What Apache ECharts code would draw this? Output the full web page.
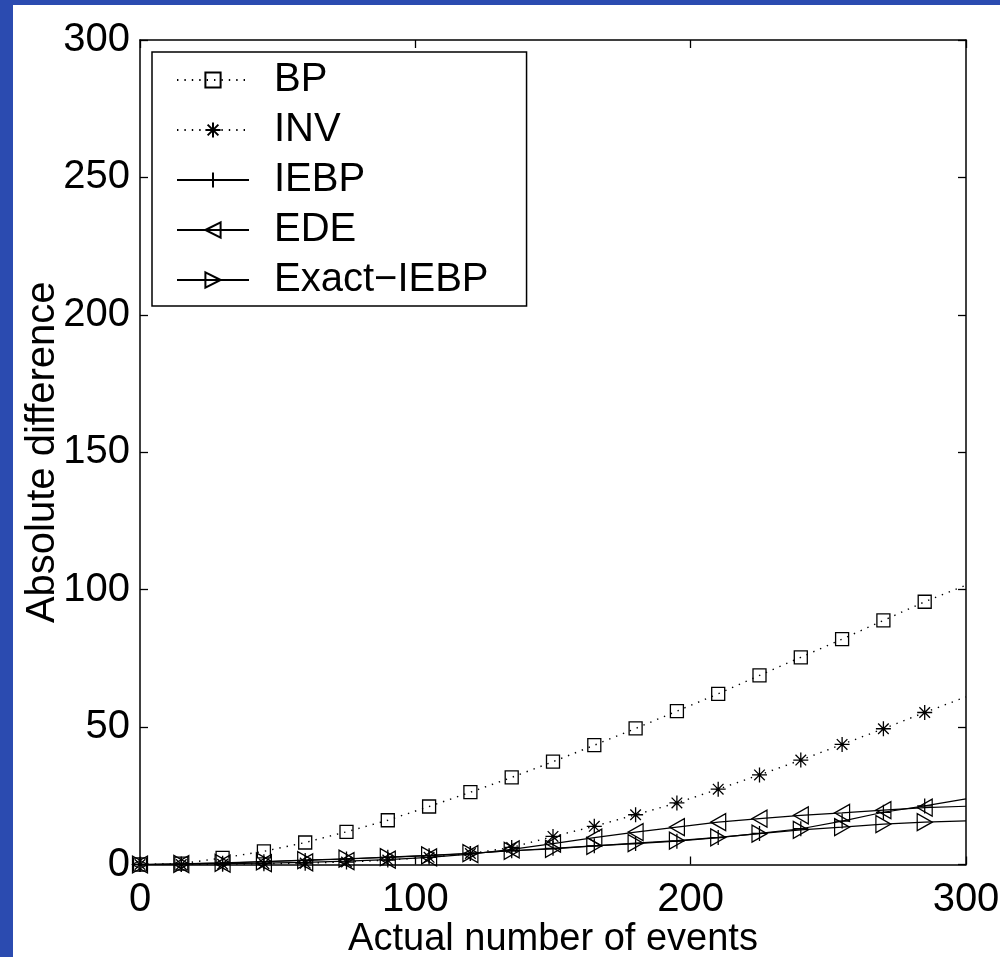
<!DOCTYPE html>
<html>
<head>
<meta charset="utf-8">
<script src="https://cdn.jsdelivr.net/npm/echarts@6/dist/echarts.min.js"></script>
<style>
  html, body { margin: 0; padding: 0; width: 1000px; height: 957px; background: #2b4bb0; overflow: hidden; }
  #chart { position: absolute; left: 13px; top: 5px; width: 987px; height: 952px; background: #ffffff; }
</style>
</head>
<body>
<div id="chart"></div>
<script>
// ---- data ----
const xValues = [0, 15, 30, 45, 60, 75, 90, 105, 120, 135, 150, 165, 180, 195, 210, 225, 240, 255, 270, 285, 300];
const bpValues   = [0, 0.3, 2.4, 4.8, 8.0, 11.9, 16.1, 21.1, 26.3, 31.7, 37.4, 43.4, 49.5, 55.8, 62.1, 68.8, 75.4, 82.0, 88.8, 95.6, 101.6];
const invValues  = [0, 0, 0.1, 0.3, 0.5, 0.9, 1.6, 2.6, 4.0, 6.2, 10.2, 13.9, 18.1, 22.4, 27.4, 32.6, 38.0, 43.7, 49.4, 55.3, 61.0];
const iebpValues = [0, 0.2, 0.5, 1.0, 1.5, 2.0, 2.6, 3.2, 4.0, 5.0, 5.9, 6.8, 7.6, 8.5, 9.8, 11.3, 13.0, 15.8, 19.0, 21.3, 23.9];
const edeValues  = [0, 0.1, 0.3, 0.5, 0.8, 1.2, 1.8, 2.6, 3.8, 5.5, 7.6, 9.8, 11.8, 13.6, 15.4, 16.7, 17.9, 18.8, 19.8, 20.7, 21.2];
const exactValues= [0, 0.2, 0.6, 1.1, 1.6, 2.1, 2.7, 3.3, 4.1, 5.0, 5.7, 6.8, 7.8, 8.7, 9.9, 11.2, 12.6, 13.6, 14.7, 15.4, 15.9];
const seriesNames = ['BP', 'INV', 'IEBP', 'EDE', 'Exact\u2212IEBP'];
const xTicks = [0, 100, 200, 300];
const yTicks = [0, 50, 100, 150, 200, 250, 300];
const xTitle = 'Actual number of events';
const yTitle = 'Absolute difference';

// ---- symbols ----
const SYM_STAR  = 'path://M0,-10L0,10M-10,0L10,0M-7.07,-7.07L7.07,7.07M-7.07,7.07L7.07,-7.07';
const SYM_PLUS  = 'path://M0,-10L0,10M-10,0L10,0';
const SYM_LEFT  = 'path://M-10,0L10,-10L10,10Z';
const SYM_RIGHT = 'path://M10,0L-10,-10L-10,10Z';

const FONT = "'Liberation Sans', Arial, Helvetica, sans-serif";

function makeData(vals) {
  return xValues.map((x, i) => {
    const item = { value: [x, vals[i]] };
    if (i === xValues.length - 1) item.symbol = 'none';
    return item;
  });
}

function mkSeries(name, vals, symbol, size, dotted) {
  return {
    name: name,
    type: 'line',
    xAxisIndex: 0,
    yAxisIndex: 0,
    data: makeData(vals),
    symbol: symbol,
    symbolSize: size,
    showAllSymbol: true,
    animation: false,
    lineStyle: { color: '#000', width: dotted ? 1.4 : 1.2, type: dotted ? [1.4, 6] : 'solid' },
    itemStyle: { color: 'none', borderColor: '#000', borderWidth: 1.3 },
    emphasis: { disabled: true }
  };
}

const chart = echarts.init(document.getElementById('chart'), null, { renderer: 'canvas' });
function axisBase() {
  return {
    type: 'value',
    axisLine: { show: true, onZero: false, lineStyle: { color: '#000', width: 1.5 } },
    axisTick: { show: true, inside: true, length: 8, lineStyle: { color: '#000', width: 1.3 } },
    splitLine: { show: false }
  };
}

chart.setOption({
  animation: false,
  textStyle: { fontFamily: FONT },
  grid: { left: 127, top: 35, width: 826, height: 824.5, show: false, containLabel: false, outerBoundsMode: 'none' },
  legend: {
    data: seriesNames,
    orient: 'vertical',
    left: 139,
    top: 47,
    itemWidth: 72,
    itemHeight: 19,
    itemGap: 10,
    padding: [8, 38, 6, 24],
    backgroundColor: '#fff',
    borderColor: '#000',
    borderWidth: 1.5,
    borderRadius: 0,
    selectedMode: false,
    textStyle: { fontSize: 40, color: '#000', fontFamily: FONT, padding: [0, 0, 0, 20], lineHeight: 40 }
  },
  xAxis: [
    Object.assign(axisBase(), {
      min: 0, max: 300, interval: 100,
      position: 'bottom',
      name: xTitle, nameLocation: 'middle', nameGap: 56, nameMoveOverlap: false,
      nameTextStyle: { fontSize: 38, color: '#000', fontFamily: FONT },
      axisLabel: { fontSize: 40, color: '#000', margin: 15, fontFamily: FONT,
        formatter: v => xTicks.includes(v) ? String(v) : '' }
    }),
    Object.assign(axisBase(), {
      min: 0, max: 300, interval: 100, position: 'top',
      axisLabel: { show: false }
    })
  ],
  yAxis: [
    Object.assign(axisBase(), {
      min: 0, max: 300, interval: 50,
      position: 'left',
      name: yTitle, nameLocation: 'middle', nameGap: 77, nameMoveOverlap: false,
      nameTextStyle: { fontSize: 40, color: '#000', fontFamily: FONT },
      axisLabel: { fontSize: 40, color: '#000', margin: 10, fontFamily: FONT,
        formatter: v => yTicks.includes(v) ? String(v) : '' }
    }),
    Object.assign(axisBase(), {
      min: 0, max: 300, interval: 50, position: 'right',
      axisLabel: { show: false }
    })
  ],
  series: [
    mkSeries(seriesNames[0], bpValues, 'rect', 13, true),
    mkSeries(seriesNames[1], invValues, SYM_STAR, 15, true),
    mkSeries(seriesNames[2], iebpValues, SYM_PLUS, 15, false),
    mkSeries(seriesNames[3], edeValues, SYM_LEFT, [15, 17], false),
    mkSeries(seriesNames[4], exactValues, SYM_RIGHT, [15, 17], false)
  ]
});
</script>
</body>
</html>
